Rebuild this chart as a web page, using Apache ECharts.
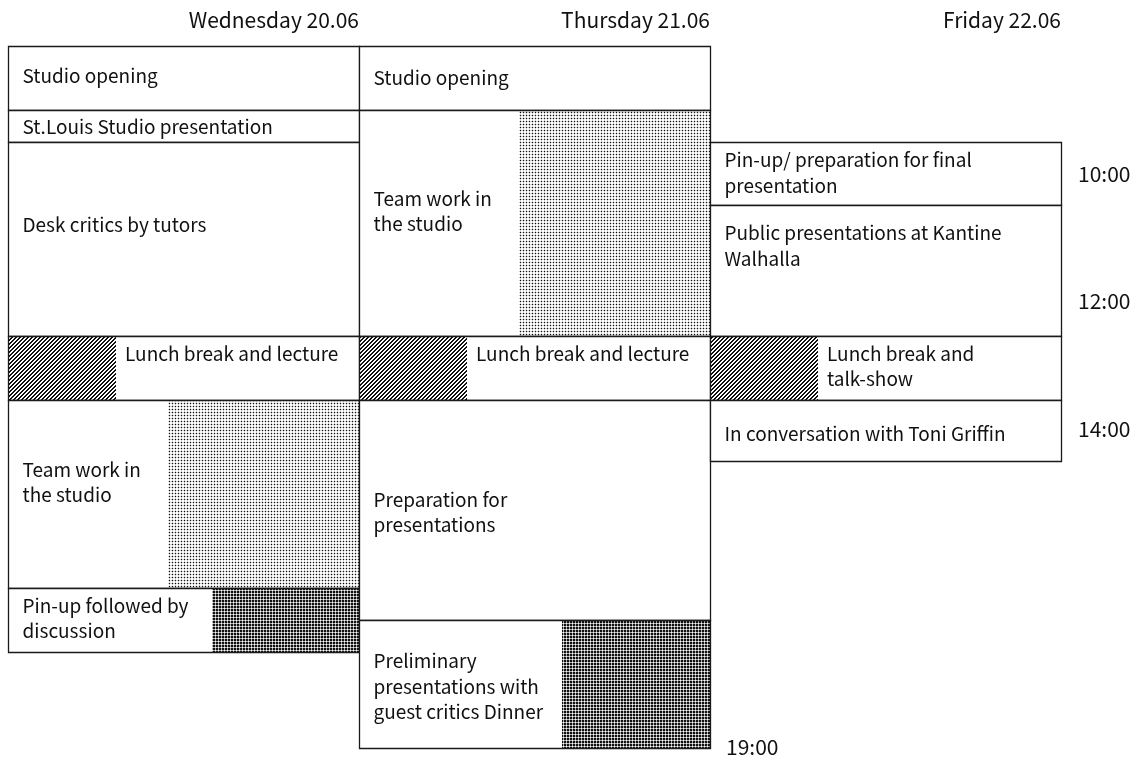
<!DOCTYPE html>
<html>
<head>
<meta charset="utf-8">
<script src="https://cdn.jsdelivr.net/npm/echarts@6/dist/echarts.min.js"></script>
<style>
  html, body { margin: 0; padding: 0; background: #fff; }
  #chart { width: 1134px; height: 758px; }
</style>
</head>
<body>
<div id="chart"></div>
<script>
// ---------- data ----------
const days = ['Wednesday 20.06', 'Thursday 21.06', 'Friday 22.06'];
const tickHours = [10, 12, 14];
const tickLabels = ['10:00', '12:00', '14:00'];
const endHour = 19;
const endLabel = '19:00';

const eventDay = [0, 0, 0, 0, 0, 0, 1, 1, 1, 1, 1, 2, 2, 2, 2];
const eventStart = [8, 9, 9.5, 12.55, 13.55, 16.5, 8, 9, 12.55, 13.55, 17, 9.5, 10.5, 12.55, 13.55];
const eventEnd = [9, 9.5, 12.55, 13.55, 16.5, 17.5, 9, 12.55, 13.55, 17, 19, 10.5, 12.55, 13.55, 14.5];
const eventTitle = [
  'Studio opening',
  'St.Louis Studio presentation',
  'Desk critics by tutors',
  'Lunch break and lecture',
  'Team work in\nthe studio',
  'Pin-up followed by\ndiscussion',
  'Studio opening',
  'Team work in\nthe studio',
  'Lunch break and lecture',
  'Preparation for\npresentations',
  'Preliminary\npresentations with\nguest critics Dinner',
  'Pin-up/ preparation for final\npresentation',
  'Public presentations at Kantine\nWalhalla',
  'Lunch break and\ntalk-show',
  'In conversation with Toni Griffin'
];
const eventKind = ['plain', 'plain', 'plain', 'lunch', 'team', 'pinup', 'plain', 'team', 'lunch', 'plain', 'dinner', 'plain', 'plain', 'lunch', 'plain'];

// ---------- styles ----------
const FONT = '"Noto Sans CJK JP", "Noto Sans", sans-serif';
const textShift = [-3, 0, -15, -15, -12, -2, -1, -12, -15, 2, 2, -1, -25, -2, 3];

function makePattern(w, h, paint) {
  const c = document.createElement('canvas');
  c.width = w; c.height = h;
  const ctx = c.getContext('2d');
  ctx.fillStyle = '#fff';
  ctx.fillRect(0, 0, w, h);
  paint(ctx);
  return { image: c, repeat: 'repeat' };
}
const hatch = makePattern(4, 4, ctx => {
  ctx.fillStyle = '#111';
  for (let x = 0; x < 4; x++) for (let y = 0; y < 4; y++) {
    if ((x + y) % 4 < 2) ctx.fillRect(x, y, 1, 1);
  }
});
const dots = makePattern(3, 3, ctx => {
  ctx.fillStyle = '#cfcfcf';
  ctx.fillRect(1, 0, 1, 1); ctx.fillRect(0, 1, 1, 1); ctx.fillRect(2, 1, 1, 1); ctx.fillRect(1, 2, 1, 1);
  ctx.fillStyle = '#111';
  ctx.fillRect(1, 1, 1, 1);
});
const checker = makePattern(3, 3, ctx => {
  ctx.fillStyle = '#111';
  ctx.fillRect(0, 0, 2, 2);
  ctx.fillStyle = '#aaa';
  ctx.fillRect(2, 0, 1, 2); ctx.fillRect(0, 2, 2, 1);
});
// pattern area as fraction of the column width
const kindPattern = {
  lunch: { fill: hatch, from: 0, to: 0.305 },
  team: { fill: dots, from: 0.455, to: 1 },
  pinup: { fill: checker, from: 0.58, to: 1 },
  dinner: { fill: checker, from: 0.576, to: 1 }
};

const seriesData = eventDay.map((d, i) => [d, eventStart[i], eventEnd[i], i]);

function renderItem(params, api) {
  const d = api.value(0), s = api.value(1), e = api.value(2), i = api.value(3);
  const p0 = api.coord([d, s]);
  const p1 = api.coord([d + 1, e]);
  const x0 = Math.round(p0[0]) + 0.5, x1 = Math.round(p1[0]) + 0.5;
  const y0 = Math.round(p0[1]) + 0.5, y1 = Math.round(p1[1]) + 0.5;
  const w = x1 - x0, h = y1 - y0;
  const children = [{
    type: 'rect', shape: { x: x0, y: y0, width: w, height: h },
    style: { fill: '#fff', stroke: 'none' }
  }];
  const pat = kindPattern[eventKind[i]];
  let tx = x0 + 14;
  if (pat) {
    const px0 = Math.round(x0 + w * pat.from), px1 = Math.round(x0 + w * pat.to);
    children.push({
      type: 'rect', shape: { x: px0, y: y0, width: px1 - px0, height: h },
      style: { fill: pat.fill, stroke: 'none' }
    });
    if (pat.from === 0) tx = px1 + 9;
  }
  children.push({
    type: 'rect', shape: { x: x0, y: y0, width: w, height: h },
    style: { fill: 'none', stroke: '#1a1a1a', lineWidth: 1.3 }
  });
  children.push({
    type: 'text',
    style: {
      x: tx, y: (y0 + y1) / 2 + textShift[i],
      text: eventTitle[i],
      fill: '#111', font: '19px ' + FONT,
      lineHeight: 25.5,
      align: 'left', verticalAlign: 'middle'
    }
  });
  return { type: 'group', children };
}

const hiddenParts = { axisLine: { show: false }, axisTick: { show: false }, splitLine: { show: false } };

const chart = echarts.init(document.getElementById('chart'), null, { renderer: 'canvas' });
chart.setOption({
  animation: false,
  backgroundColor: '#fff',
  grid: { left: 8, right: 73, top: 46, bottom: 9 },
  xAxis: Object.assign({
    type: 'value', min: 0, max: 3, interval: 1, position: 'top',
    axisLabel: {
      show: true, showMinLabel: true, showMaxLabel: true,
      align: 'right', margin: 15,
      fontFamily: FONT, fontSize: 21, color: '#111',
      formatter: v => days[v - 1] || ''
    }
  }, hiddenParts),
  yAxis: [
    Object.assign({
      type: 'value', min: 8, max: 19, interval: 1, inverse: true, position: 'right',
      axisLabel: {
        show: true, showMinLabel: true, showMaxLabel: true,
        margin: 17, align: 'left',
        fontFamily: FONT, fontSize: 21, color: '#111',
        formatter: v => { const k = tickHours.indexOf(v); return k >= 0 ? tickLabels[k] : ''; }
      }
    }, hiddenParts),
    Object.assign({
      type: 'value', min: 8, max: 19, interval: 1, inverse: true, position: 'right',
      offset: -350,
      axisLabel: {
        show: true, showMinLabel: true, showMaxLabel: true,
        margin: 15, align: 'left', padding: [0, 0, 6, 0],
        fontFamily: FONT, fontSize: 21, color: '#111',
        formatter: v => v === endHour ? endLabel : ''
      }
    }, hiddenParts)
  ],
  series: [{
    type: 'custom',
    renderItem,
    data: seriesData,
    encode: { x: 0, y: [1, 2] },
    clip: false
  }]
});
</script>
</body>
</html>
